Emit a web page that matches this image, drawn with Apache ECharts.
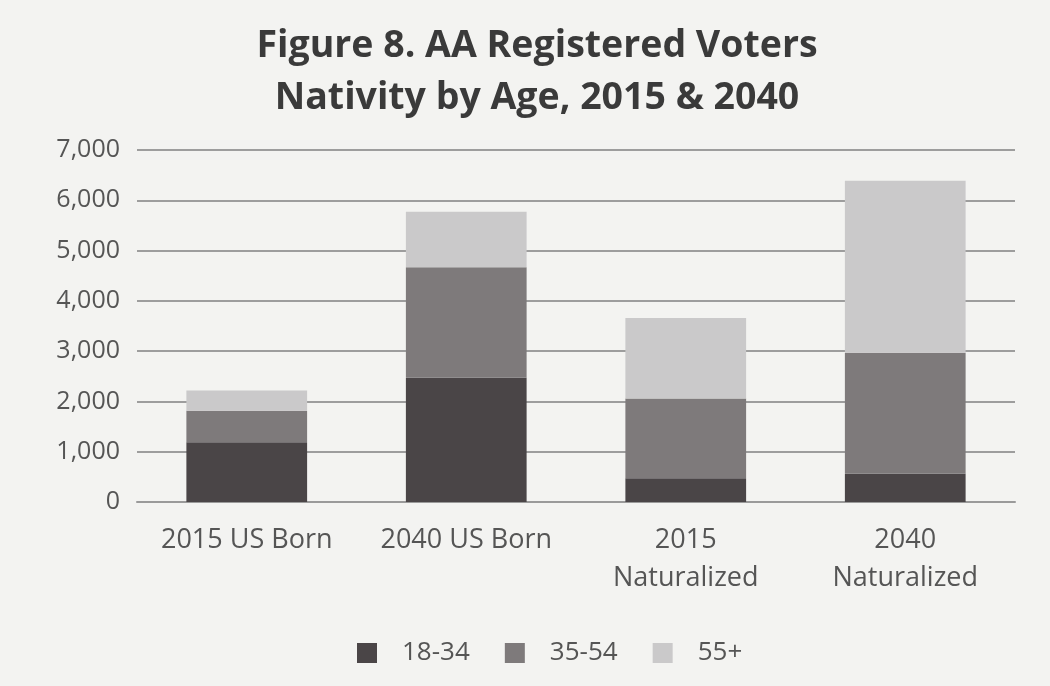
<!DOCTYPE html>
<html>
<head>
<meta charset="utf-8">
<script src="https://cdn.jsdelivr.net/npm/echarts@6/dist/echarts.min.js"></script>
<style>
  html, body { margin: 0; padding: 0; background: #f3f3f1; }
  #chart { width: 1050px; height: 686px; }
</style>
</head>
<body>
<div id="chart"></div>
<script>
// Registered voters (thousands) by nativity group and age band
const categories = ['2015 US Born', '2040 US Born', '2015\nNaturalized', '2040\nNaturalized'];
const age18to34 = [1190, 2470, 470, 560];
const age35to54 = [625, 2200, 1590, 2410];
const age55plus = [400, 1100, 1600, 3420];
const seriesNames = ['18-34', '35-54', '55+'];
const seriesColors = ['#4a4547', '#7e7a7b', '#cac9ca'];

const font = '"Open Sans", sans-serif';
const chart = echarts.init(document.getElementById('chart'));

const values = [age18to34, age35to54, age55plus];
chart.setOption({
  backgroundColor: '#f3f3f1',
  animation: false,
  title: {
    text: 'Figure 8. AA Registered Voters\nNativity by Age, 2015 & 2040',
    left: 532,
    textAlign: 'center',
    top: 15,
    textStyle: { fontFamily: font, fontSize: 37.5, fontWeight: 'bold', color: '#3a3a3a', lineHeight: 52 }
  },
  legend: {
    top: 634,
    left: 352,
    itemWidth: 20,
    itemHeight: 20,
    itemGap: 35,
    icon: 'rect',
    textStyle: { fontFamily: font, fontSize: 26, color: '#555', lineHeight: 28, padding: [0, 0, 0, 20] },
    data: seriesNames
  },
  grid: { left: 137, right: 35, top: 150, bottom: 184 },
  xAxis: {
    type: 'category',
    data: categories,
    axisLine: { lineStyle: { color: '#9a9a9a', width: 2 } },
    axisTick: { show: false },
    axisLabel: { interval: 0, fontFamily: font, fontSize: 27, color: '#555', margin: 19, lineHeight: 38 }
  },
  yAxis: {
    type: 'value',
    min: 0,
    max: 7000,
    interval: 1000,
    axisLine: { show: false },
    axisTick: { show: false },
    splitLine: { lineStyle: { color: '#9d9d9d', width: 2 } },
    axisLabel: {
      fontFamily: font, fontSize: 25, color: '#555', margin: 17,
      formatter: v => v.toLocaleString('en-US')
    }
  },
  series: seriesNames.map((name, i) => ({
    name,
    type: 'bar',
    stack: 'total',
    barWidth: '55%',
    itemStyle: { color: seriesColors[i] },
    data: values[i]
  }))
});
</script>
</body>
</html>
